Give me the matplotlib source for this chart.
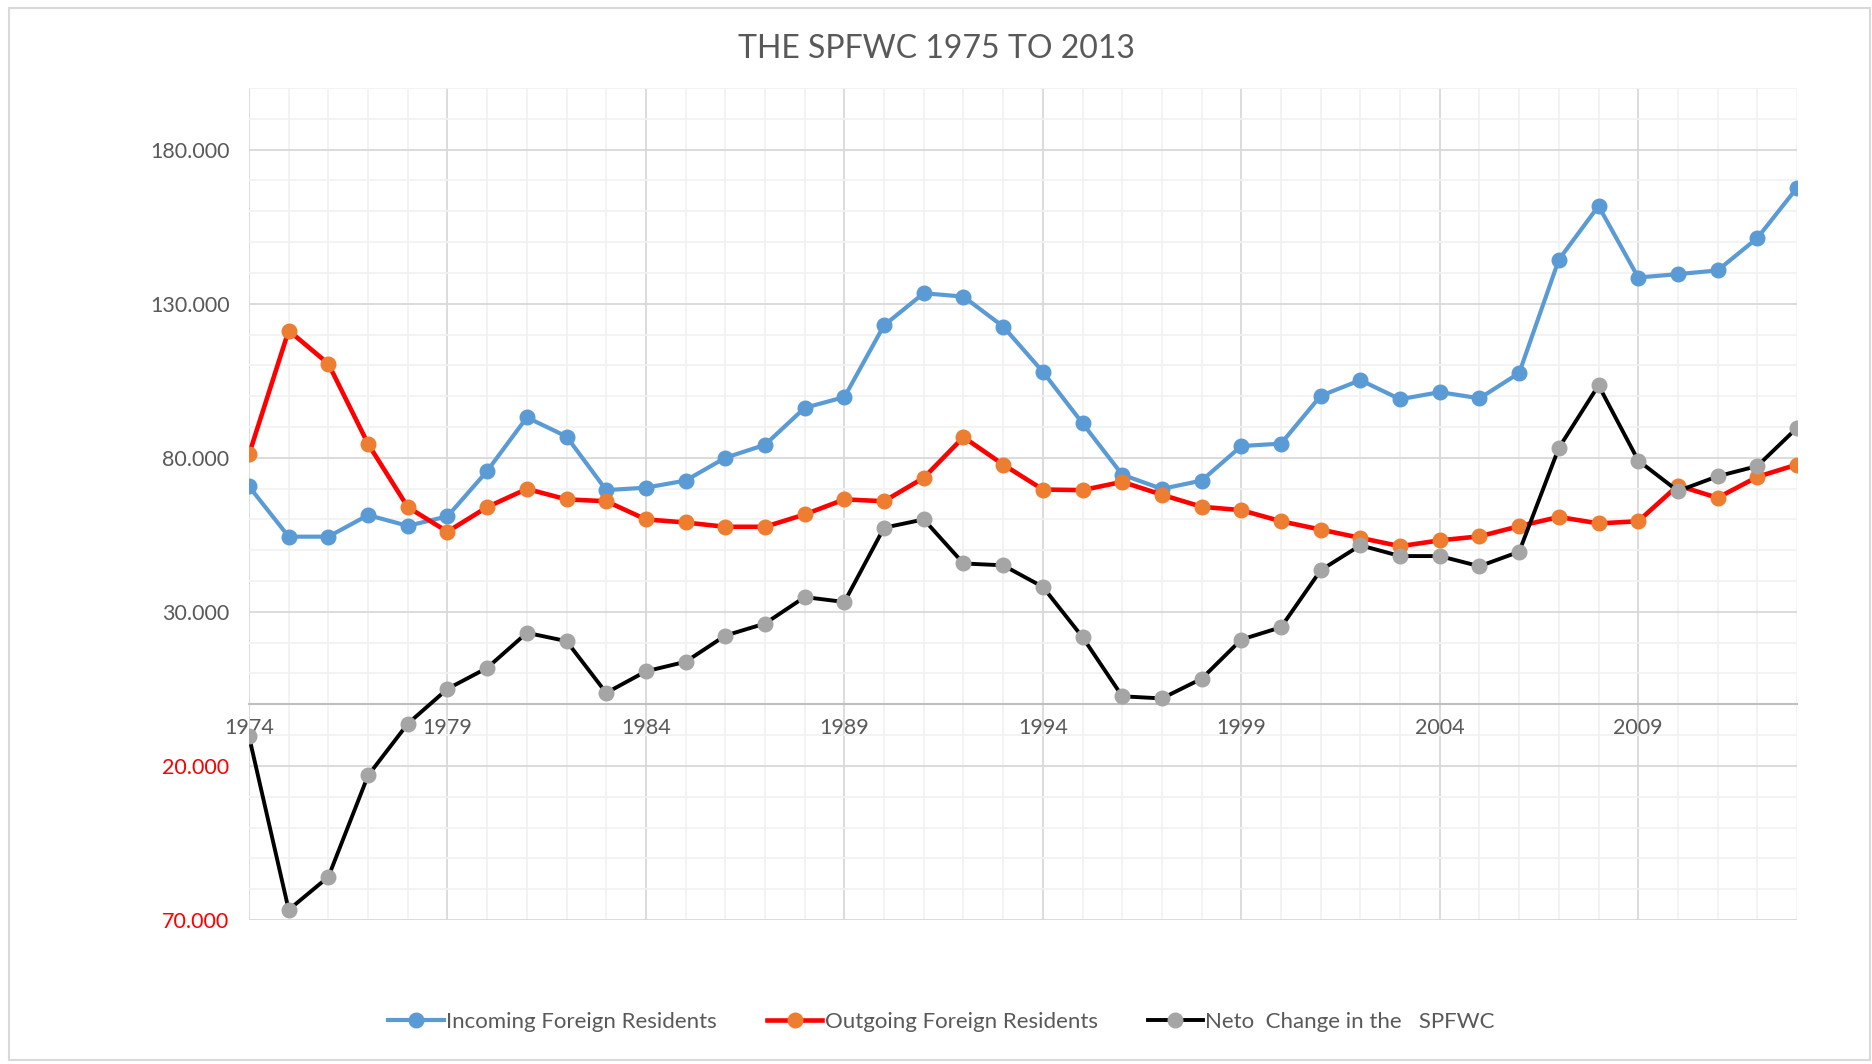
import numpy as np
import matplotlib.pyplot as plt
from matplotlib.patches import Rectangle

# Datos
years = list(range(1974, 2014))
incoming = [70700, 54400, 54400, 61400, 57900, 61000, 75700, 93100, 86900, 69500,
            70300, 72600, 80000, 84200, 96200, 99700, 123000, 133400, 132300, 122600,
            107900, 91200, 74500, 69900, 72600, 83800, 84600, 100100, 105200, 99000,
            101300, 99300, 107500, 144300, 161700, 138500, 139600, 140800, 151300, 167600]
outgoing = [81100, 121300, 110500, 84500, 64000, 56000, 64000, 69900, 66500, 65900,
            60000, 59000, 57600, 57600, 61600, 66500, 65900, 73500, 86700, 77800,
            69700, 69500, 72200, 68000, 64100, 63000, 59400, 56700, 54000, 51300,
            53200, 54500, 57800, 60800, 58700, 59400, 71000, 67000, 73800, 77800]
net_change = [-10400, -66700, -56000, -23100, -6300, 5000, 11800, 23200, 20500, 3700,
              10700, 13800, 22300, 26200, 34800, 33200, 57300, 60000, 45700, 45100,
              38100, 21800, 2600, 1900, 8300, 21000, 25000, 43500, 51600, 48100,
              48100, 44800, 49500, 83200, 103500, 79100, 69200, 74000, 77300, 89700]

series_labels = ['Incoming Foreign Residents', 'Outgoing Foreign Residents',
                 'Neto  Change in the   SPFWC']

plt.rcParams['font.family'] = ['Lato', 'DejaVu Sans']

fig = plt.figure(figsize=(18.72, 10.64), dpi=100)
ax = fig.add_axes([249 / 1872, 1 - 920 / 1064, (1797 - 249) / 1872, (920 - 88) / 1064])

ax.plot(years, incoming, color='#5B9BD5', lw=3, marker='o', ms=10.5,
        mfc='#5B9BD5', mec='#5B9BD5', label=series_labels[0], zorder=3)
ax.plot(years, outgoing, color='#FF0000', lw=3.3, marker='o', ms=10.5,
        mfc='#ED7D31', mec='#ED7D31', label=series_labels[1], zorder=4)
ax.plot(years, net_change, color='black', lw=2.8, marker='o', ms=10.5,
        mfc='#A5A5A5', mec='#A5A5A5', label=series_labels[2], zorder=5)

ax.set_xlim(1974, 2013)
ax.set_ylim(-70000, 200000)

# Ejes y rejilla
ax.set_xticks(range(1974, 2013, 5))
ax.set_xticks(years, minor=True)
yticks = list(range(-70000, 200001, 50000))
ax.set_yticks(yticks, labels=[f"{abs(v):,}".replace(',', '.') for v in yticks])
ax.set_yticks(range(-70000, 200001, 10000), minor=True)
for lab, v in zip(ax.get_yticklabels(), yticks):
    lab.set_color('#FF0000' if v < 0 else '#595959')

ax.grid(True, which='major', color='#D9D9D9', lw=1.3)
ax.grid(True, which='minor', color='#F2F2F2', lw=1.3)
ax.set_axisbelow(True)

for s in ['top', 'right', 'left']:
    ax.spines[s].set_visible(False)
ax.spines['bottom'].set_position(('data', 0))
ax.spines['bottom'].set_color('#BFBFBF')
ax.spines['bottom'].set_linewidth(1.5)

ax.tick_params(axis='x', which='both', length=0, pad=10, labelsize=15.5, labelcolor='#595959')
ax.tick_params(axis='y', which='both', length=0, pad=14, labelsize=15.5)

fig.text(0.5, 1 - 49 / 1064, 'THE SPFWC 1975 TO 2013', ha='center', va='center',
         fontsize=23, color='#595959')

fig.legend(loc='center', bbox_to_anchor=(0.503, 1 - 1022 / 1064), ncol=3, frameon=False,
           fontsize=16, handlelength=2.5, handletextpad=0.1, columnspacing=2.25,
           labelcolor='#595959')

fig.add_artist(Rectangle((9 / 1872, 4 / 1064), (1870 - 9) / 1872, (1058 - 6) / 1064,
                         transform=fig.transFigure, fill=False, ec='#D9D9D9', lw=1.5))

fig.savefig('out.png', dpi=100)
